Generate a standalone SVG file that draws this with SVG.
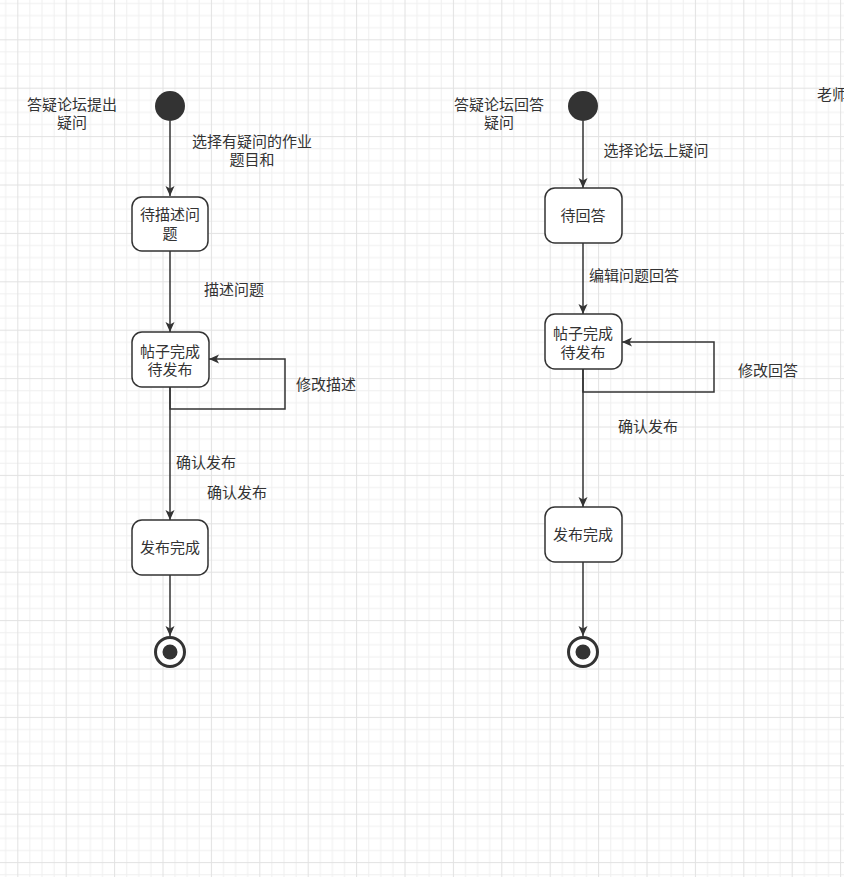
<svg xmlns="http://www.w3.org/2000/svg" width="844" height="877" viewBox="0 0 844 877">
  <defs>
    <pattern id="grid" x="17.3" y="39.3" width="48.4" height="48.4" patternUnits="userSpaceOnUse">
      <rect x="0" y="0" width="48.4" height="48.4" fill="#ffffff"/>
      <g fill="#f0f0f0">
        <rect x="12.1" y="0" width="1" height="48.4"/>
        <rect x="24.2" y="0" width="1" height="48.4"/>
        <rect x="36.3" y="0" width="1" height="48.4"/>
        <rect x="0" y="12.1" width="48.4" height="1"/>
        <rect x="0" y="24.2" width="48.4" height="1"/>
        <rect x="0" y="36.3" width="48.4" height="1"/>
      </g>
      <g fill="#e2e2e2">
        <rect x="0" y="0" width="1" height="48.4"/>
        <rect x="0" y="0" width="48.4" height="1"/>
      </g>
    </pattern>
    <marker id="arrow" markerUnits="userSpaceOnUse" markerWidth="12" markerHeight="10" refX="10" refY="4.5" orient="auto">
      <path d="M0,0 L10,4.5 L0,9 L2.5,4.5 Z" fill="#333333"/>
    </marker>
  </defs>
  <style>
    text { font-family: "Noto Sans CJK SC", "Noto Sans", sans-serif; font-size: 15px; fill: #333333; text-anchor: middle; }
    .state { fill: #ffffff; stroke: #333333; stroke-width: 1.5; }
    .start { fill: #333333; }
    .end-ring { fill: #ffffff; stroke: #333333; stroke-width: 3; }
    .end-dot { fill: #333333; }
    .edge { fill: none; stroke: #333333; stroke-width: 1.5; }
  </style>

  <rect x="0" y="0" width="844" height="877" fill="url(#grid)"/>

  <!-- swimlane titles -->
  <g id="title-ask">
    <text x="72" y="110">答疑论坛提出</text>
    <text x="72" y="128">疑问</text>
  </g>
  <g id="title-answer">
    <text x="499" y="110">答疑论坛回答</text>
    <text x="499" y="128">疑问</text>
  </g>
  <g id="title-teacher">
    <text x="817" y="100" style="text-anchor:start">老师</text>
  </g>

  <!-- connectors -->
  <g id="connectors">
    <path class="edge" d="M170,121 L170,196" marker-end="url(#arrow)"/>
    <path class="edge" d="M170,251 L170,332" marker-end="url(#arrow)"/>
    <path class="edge" d="M170,387 L170,409 L285,409 L285,359 L209,359" marker-end="url(#arrow)"/>
    <path class="edge" d="M170,387 L170,520" marker-end="url(#arrow)"/>
    <path class="edge" d="M170,575 L170,636" marker-end="url(#arrow)"/>

    <path class="edge" d="M583,121 L583,188" marker-end="url(#arrow)"/>
    <path class="edge" d="M583,243 L583,314" marker-end="url(#arrow)"/>
    <path class="edge" d="M583,369 L583,392 L714,392 L714,342 L622,342" marker-end="url(#arrow)"/>
    <path class="edge" d="M583,369 L583,507" marker-end="url(#arrow)"/>
    <path class="edge" d="M583,562 L583,636" marker-end="url(#arrow)"/>

    <!-- edge labels -->
    <text x="252" y="147">选择有疑问的作业</text>
    <text x="252" y="165">题目和</text>
    <text x="234" y="295">描述问题</text>
    <text x="326" y="390">修改描述</text>
    <text x="206" y="468">确认发布</text>
    <text x="237" y="498">确认发布</text>

    <text x="656" y="156">选择论坛上疑问</text>
    <text x="634" y="281">编辑问题回答</text>
    <text x="768" y="376">修改回答</text>
    <text x="648" y="432">确认发布</text>
  </g>

  <!-- left flow: asking -->
  <g id="ask-start">
    <circle class="start" cx="170" cy="106" r="15"/>
  </g>
  <g id="ask-describe">
    <rect class="state" x="132" y="197" width="76" height="54" rx="10"/>
    <text x="170" y="220">待描述问</text>
    <text x="170" y="239">题</text>
  </g>
  <g id="ask-ready">
    <rect class="state" x="132" y="332" width="77" height="55" rx="10"/>
    <text x="170" y="357">帖子完成</text>
    <text x="170" y="375">待发布</text>
  </g>
  <g id="ask-published">
    <rect class="state" x="132" y="520" width="76" height="55" rx="10"/>
    <text x="170" y="553">发布完成</text>
  </g>
  <g id="ask-end">
    <circle class="end-ring" cx="170" cy="652" r="14.5"/>
    <circle class="end-dot" cx="170" cy="652" r="7.5"/>
  </g>

  <!-- right flow: answering -->
  <g id="answer-start">
    <circle class="start" cx="583" cy="106" r="15"/>
  </g>
  <g id="answer-pending">
    <rect class="state" x="545" y="188" width="77" height="55" rx="10"/>
    <text x="583" y="221">待回答</text>
  </g>
  <g id="answer-ready">
    <rect class="state" x="545" y="314" width="77" height="55" rx="10"/>
    <text x="583" y="339">帖子完成</text>
    <text x="583" y="358">待发布</text>
  </g>
  <g id="answer-published">
    <rect class="state" x="545" y="507" width="77" height="55" rx="10"/>
    <text x="583" y="540">发布完成</text>
  </g>
  <g id="answer-end">
    <circle class="end-ring" cx="583" cy="652" r="14.5"/>
    <circle class="end-dot" cx="583" cy="652" r="7.5"/>
  </g>
</svg>
